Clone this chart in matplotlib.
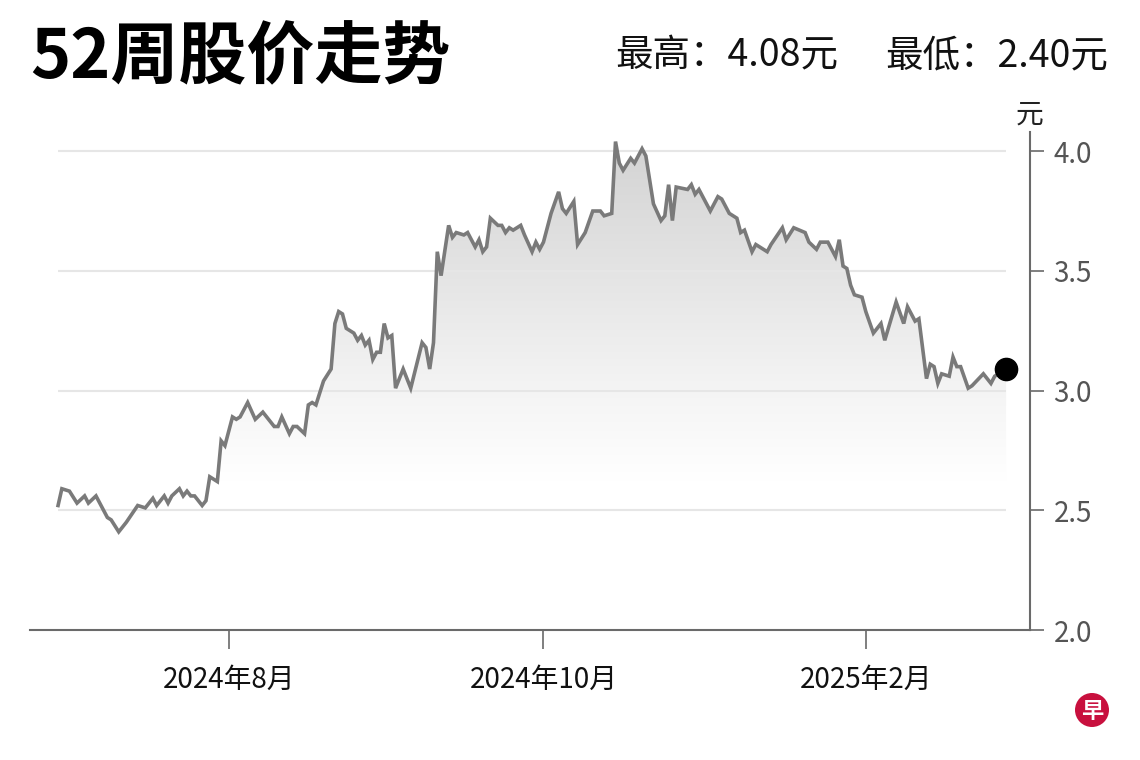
import numpy as np
import matplotlib
matplotlib.use("Agg")
import matplotlib.pyplot as plt
from matplotlib.patches import Polygon, Ellipse
from matplotlib.colors import LinearSegmentedColormap

plt.rcParams['font.family'] = ['Noto Sans CJK SC', 'DejaVu Sans']

# ---------------- data ----------------
title = "52周股价走势"
high_52w = 4.08
low_52w = 2.40
unit = "元"

# trading-day index and closing price
days = [0, 1, 3, 5, 7, 8, 10, 11, 13, 14, 16, 18, 21, 23, 25, 26, 28, 29, 30, 32,
        33, 34, 35, 36, 38, 39, 40, 42, 43, 44, 46, 47, 48, 50, 52, 54, 57, 58, 59, 61,
        62, 63, 65, 66, 67, 68, 70, 72, 73, 74, 75, 76, 78, 79, 80, 81, 82, 83, 84, 85,
        86, 87, 88, 89, 91, 93, 96, 97, 98, 99, 100, 101, 103, 104, 105, 107, 108, 110, 111, 112,
        113, 114, 116, 117, 118, 119, 120, 122, 123, 125, 126, 127, 128, 130, 132, 133, 134, 136, 137, 139,
        141, 143, 144, 146, 147, 148, 149, 151, 152, 154, 155, 157, 159, 160, 161, 162, 163, 166, 167, 168,
        169, 172, 174, 175, 177, 179, 180, 181, 183, 184, 187, 188, 191, 192, 194, 197, 198, 200, 201, 203,
        205, 206, 207, 208, 209, 210, 212, 213, 215, 217, 218, 221, 223, 224, 226, 227, 229, 230, 231, 232,
        233, 235, 236, 237, 238, 240, 241, 244, 246, 247, 250]
prices = [2.52, 2.59, 2.58, 2.53, 2.56, 2.53, 2.56, 2.53, 2.47, 2.46, 2.41, 2.45, 2.52, 2.51, 2.55, 2.52, 2.56, 2.53, 2.56, 2.59,
          2.56, 2.58, 2.56, 2.56, 2.52, 2.54, 2.64, 2.62, 2.79, 2.77, 2.89, 2.88, 2.89, 2.95, 2.88, 2.91, 2.85, 2.85, 2.89, 2.82,
          2.85, 2.85, 2.82, 2.94, 2.95, 2.94, 3.04, 3.09, 3.28, 3.33, 3.32, 3.26, 3.24, 3.21, 3.23, 3.19, 3.21, 3.13, 3.16, 3.16,
          3.28, 3.22, 3.23, 3.01, 3.09, 3.01, 3.20, 3.18, 3.09, 3.20, 3.58, 3.48, 3.69, 3.64, 3.66, 3.65, 3.66, 3.60, 3.63, 3.58,
          3.60, 3.72, 3.69, 3.69, 3.66, 3.68, 3.67, 3.69, 3.65, 3.58, 3.62, 3.59, 3.62, 3.74, 3.83, 3.76, 3.74, 3.79, 3.61, 3.66,
          3.75, 3.75, 3.73, 3.74, 4.04, 3.95, 3.92, 3.97, 3.95, 4.01, 3.98, 3.78, 3.71, 3.73, 3.86, 3.71, 3.85, 3.84, 3.86, 3.82,
          3.84, 3.75, 3.81, 3.80, 3.74, 3.72, 3.66, 3.67, 3.58, 3.61, 3.58, 3.61, 3.68, 3.63, 3.68, 3.66, 3.62, 3.59, 3.62, 3.62,
          3.56, 3.63, 3.52, 3.51, 3.44, 3.40, 3.39, 3.33, 3.24, 3.28, 3.21, 3.37, 3.28, 3.35, 3.29, 3.30, 3.05, 3.11, 3.10, 3.03,
          3.07, 3.06, 3.14, 3.10, 3.10, 3.01, 3.02, 3.07, 3.03, 3.06, 3.09]

xtick_days = [45, 128, 213]
xtick_labels = ["2024年8月", "2024年10月", "2025年2月"]
yticks = [2.0, 2.5, 3.0, 3.5, 4.0]
ylim = (2.0, 4.08)

# ---------------- figure ----------------
W, H = 1140, 760
fig = plt.figure(figsize=(W / 100, H / 100), dpi=100)
fig.patch.set_facecolor('white')

ax = fig.add_axes([30 / W, 1 - 630 / H, 1000 / W, (630 - 132) / H])
ax.set_facecolor('none')
ax.set_xlim(days[0] - 7.4, days[-1] + 6.3)
ax.set_ylim(*ylim)

# gradient fill under the line
xy = np.column_stack([np.r_[days[0], days, days[-1]],
                      np.r_[ylim[0], prices, ylim[0]]])
clip = Polygon(xy, closed=True, facecolor='none', edgecolor='none')
ax.add_patch(clip)
cmap = LinearSegmentedColormap.from_list(
    'g', [(0.0, '#ffffff'), (0.3, '#ffffff'), (0.5, '#f3f3f3'),
          (0.75, '#e2e2e2'), (1.0, '#d2d2d2')])
grad = np.linspace(0, 1, 256).reshape(-1, 1)
im = ax.imshow(grad, extent=[days[0], days[-1], ylim[0], ylim[1]], origin='lower',
               cmap=cmap, aspect='auto', zorder=1, interpolation='bilinear')
im.set_clip_path(clip)

# gridlines
ax.hlines([t for t in yticks if t > ylim[0]], days[0], days[-1],
          colors='#e6e6e6', linewidth=1.5, zorder=1.5)

# price line and end dot
ax.plot(days, prices, color='#7a7a7a', linewidth=2.6, zorder=3,
        solid_joinstyle='miter')
ax.plot(days[-1], prices[-1], 'o', color='black', markersize=16, zorder=4)

# axes styling
for s in ['left', 'top']:
    ax.spines[s].set_visible(False)
ax.spines['bottom'].set_color('#6a6a6a')
ax.spines['bottom'].set_linewidth(1.5)
ax.spines['right'].set_color('#6a6a6a')
ax.spines['right'].set_linewidth(1.5)

ax.yaxis.tick_right()
ax.set_yticks(yticks)
ax.set_yticklabels([f"{t:.1f}" for t in yticks])
ax.tick_params(axis='y', which='both', direction='out', length=10, width=1.2,
               color='#6a6a6a', labelcolor='#555555', labelsize=20, pad=7)
ax.set_xticks(xtick_days)
ax.set_xticklabels(xtick_labels)
ax.tick_params(axis='x', direction='out', length=14, width=1.2,
               color='#6a6a6a', labelcolor='#111111', labelsize=20, pad=11)

# texts
fig.text(30 / W, 1 - 59 / H, title, fontsize=49, fontweight='black',
         ha='left', va='center', color='#000000')
fig.text(615 / W, 1 - 56 / H, f"最高：{high_52w:.2f}{unit}", fontsize=27,
         ha='left', va='center', color='#111111')
fig.text(1108 / W, 1 - 56 / H, f"最低：{low_52w:.2f}{unit}", fontsize=27,
         ha='right', va='center', color='#111111')
fig.text(1030 / W, 1 - 115 / H, unit, fontsize=20, ha='center', va='center',
         color='#222222')

# logo
fig.patches.append(Ellipse((1092 / W, 1 - 710 / H), 34 / W, 34 / H,
                           transform=fig.transFigure,
                           facecolor='#c8103e', edgecolor='none'))
fig.text(1092 / W, 1 - 711 / H, "早", fontsize=16, fontweight='bold',
         ha='center', va='center', color='white')

fig.savefig('out.png', dpi=100)
